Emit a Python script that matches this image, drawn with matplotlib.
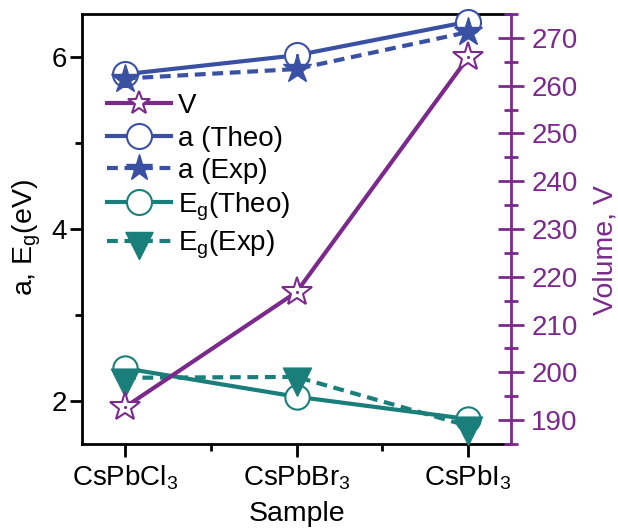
import matplotlib
matplotlib.use("Agg")
import matplotlib.pyplot as plt
from matplotlib.lines import Line2D
from matplotlib.path import Path
from matplotlib.ticker import MultipleLocator

plt.rcParams['font.family'] = ['Liberation Sans', 'DejaVu Sans']
plt.rcParams['mathtext.fontset'] = 'custom'
plt.rcParams['mathtext.rm'] = 'Liberation Sans'
plt.rcParams['mathtext.it'] = 'Liberation Sans'

# Data
samples = ['CsPbCl$_3$', 'CsPbBr$_3$', 'CsPbI$_3$']
volume = [192.7, 216.8, 265.9]
a_theo = [5.80, 6.02, 6.41]
a_exp = [5.75, 5.86, 6.29]
eg_theo = [2.38, 2.05, 1.79]
eg_exp = [2.27, 2.28, 1.71]

PURPLE = '#7B2A8C'
BLUE = '#3A50A3'
TEAL = '#1A7E7A'
FS = 20       # tick labels and legend
FS_LAB = 20.5  # axis titles

# down-pointing triangle centred on its centroid
tri = Path([(-1, 0.667), (1, 0.667), (0, -1.333), (-1, 0.667)],
           [Path.MOVETO, Path.LINETO, Path.LINETO, Path.CLOSEPOLY])

fig = plt.figure(figsize=(6.18, 5.29), dpi=100)
ax = fig.add_axes([82/618, 1-444/529, 429/618, 430/529])
x = list(range(len(samples)))

lw = 3
dash = (2.6, 1.6)
ax.plot(x, a_theo, color=BLUE, lw=lw, marker='o', ms=18, mfc='white',
        mec=BLUE, mew=1.5, zorder=3, clip_on=False)
ax.plot(x, a_theo, ls='none', marker='.', ms=2.5, color=BLUE, zorder=3.1, clip_on=False)
ax.plot(x, a_exp, color=BLUE, lw=lw, ls=(0, dash), marker='*', ms=21,
        mfc=BLUE, mec=BLUE, zorder=4, clip_on=False)
ax.plot(x, eg_theo, color=TEAL, lw=lw, marker='o', ms=17.5, mfc='white',
        mec=TEAL, mew=1.5, zorder=3, clip_on=False)
ax.plot(x, eg_exp, color=TEAL, lw=lw, ls=(0, dash), marker=tri, ms=27,
        mfc=TEAL, mec=TEAL, zorder=4, clip_on=False)

ax.set_xlim(-0.25, 2.25)
ax.set_ylim(1.5, 6.5)
ax.set_xticks(x)
ax.set_xticklabels(samples)
ax.xaxis.set_minor_locator(MultipleLocator(0.5))
ax.yaxis.set_major_locator(MultipleLocator(2))
ax.yaxis.set_minor_locator(MultipleLocator(1))
ax.yaxis.set_major_formatter(plt.FuncFormatter(lambda v, p: f'{v:.0f}'))
ax.tick_params(which='major', direction='out', length=9, width=2, labelsize=FS, pad=2)
ax.tick_params(which='minor', direction='out', length=5, width=2)
ax.tick_params(axis='x', which='major', pad=5)
for s in ['left', 'bottom', 'top']:
    ax.spines[s].set_linewidth(2)
ax.spines['right'].set_visible(False)

ax.set_xlabel('Sample', fontsize=FS_LAB)
ax.xaxis.set_label_coords(0.5, -0.133)
ax.set_ylabel(r'a, E$\mathregular{_g}$(eV)', fontsize=FS_LAB)
ax.yaxis.set_label_coords(-0.09, 0.48)

ax2 = ax.twinx()
ax2.plot(x, volume, color=PURPLE, lw=lw, zorder=2, clip_on=False)
ax2.plot(x, volume, ls='none', marker='*', ms=22, mfc='white', mec=PURPLE,
         mew=1.5, zorder=4, clip_on=False)
ax2.plot(x, volume, ls='none', marker='.', ms=2.5, color=PURPLE, zorder=5, clip_on=False)
ax2.set_ylim(185, 275)
ax2.yaxis.set_major_locator(MultipleLocator(10))
ax2.yaxis.set_minor_locator(MultipleLocator(5))
for s in ['left', 'bottom', 'top']:
    ax2.spines[s].set_visible(False)
ax2.spines['right'].set_color(PURPLE)
ax2.spines['right'].set_linewidth(2)
ax2.tick_params(axis='y', which='major', direction='inout', length=19, width=2,
                colors=PURPLE, labelsize=FS, pad=5)
ax2.tick_params(axis='y', which='minor', direction='inout', length=10, width=2,
                colors=PURPLE)
ax2.set_ylabel('Volume, V', fontsize=FS_LAB, color=PURPLE)
ax2.yaxis.set_label_coords(1.19, 0.45)

handles = [
    Line2D([], [], color=PURPLE, lw=lw, marker='*', ms=17, mfc='white', mec=PURPLE, mew=1.5),
    Line2D([], [], color=BLUE, lw=lw, marker='o', ms=18, mfc='white', mec=BLUE, mew=1.5),
    Line2D([], [], color=BLUE, lw=lw, ls=(0, dash), marker='*', ms=20, mfc=BLUE, mec=BLUE),
    Line2D([], [], color=TEAL, lw=lw, marker='o', ms=18, mfc='white', mec=TEAL, mew=1.5),
    Line2D([], [], color=TEAL, lw=lw, ls=(0, dash), marker=tri, ms=26, mfc=TEAL, mec=TEAL),
]
labels = ['V', 'a (Theo)', 'a (Exp)', r'E$\mathregular{_g}$(Theo)', r'E$\mathregular{_g}$(Exp)']
leg = ax2.legend(handles, labels, loc='upper left', bbox_to_anchor=(0.058, 0.816),
                 frameon=False, fontsize=FS, handlelength=2.3, handletextpad=0.25,
                 labelspacing=0.23, borderpad=0, borderaxespad=0)

fig.savefig('out.png', dpi=100)
